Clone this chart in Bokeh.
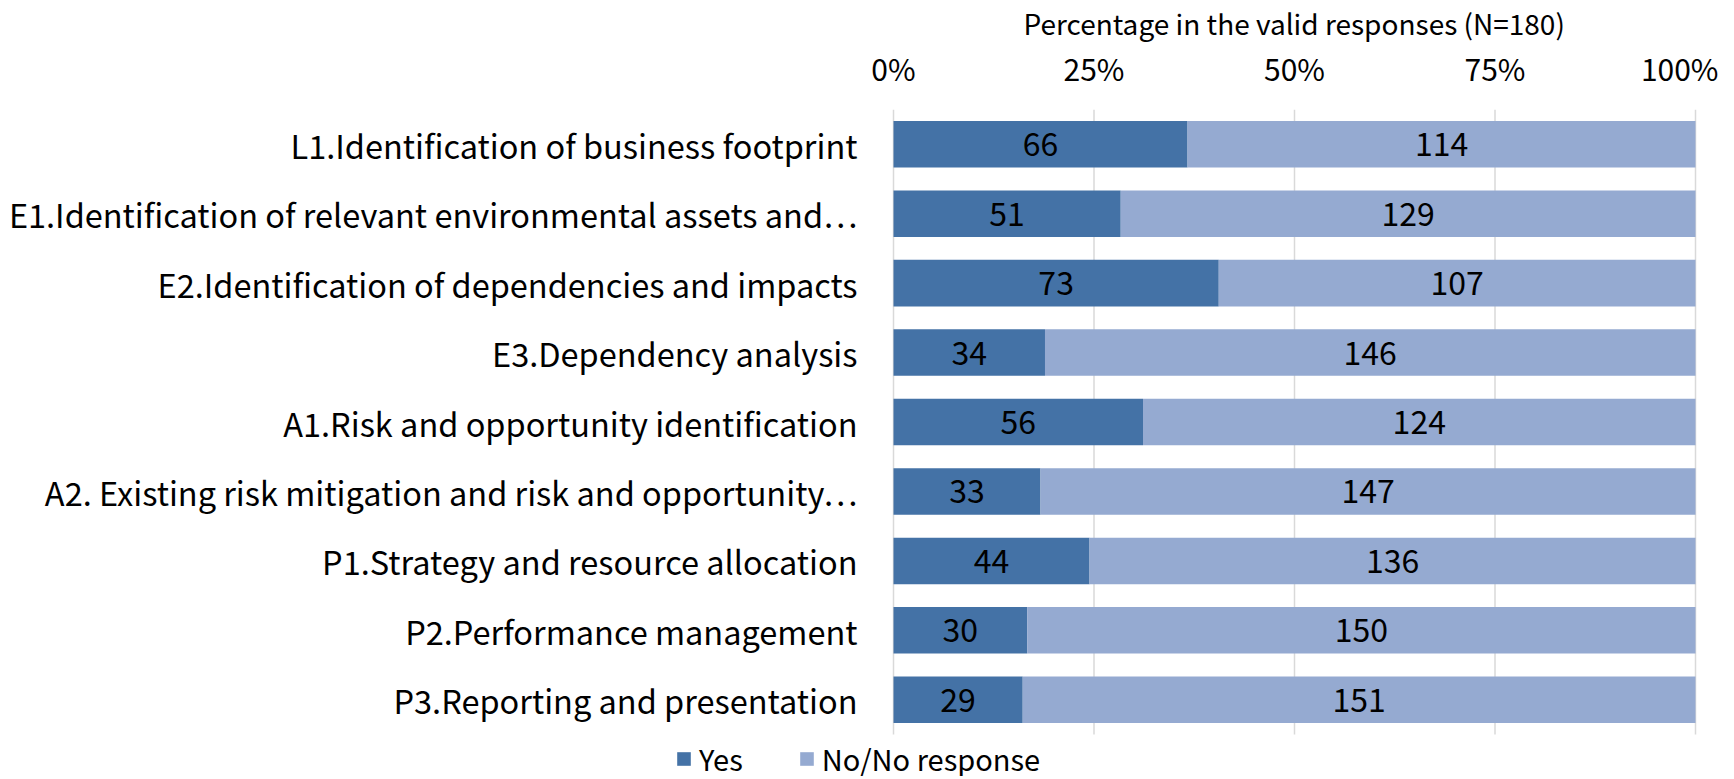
from bokeh.plotting import figure
from bokeh.models import (ColumnDataSource, Legend, LegendItem, Title,
                          NumeralTickFormatter, FixedTicker, Range1d)
from bokeh.embed import file_html
from bokeh.resources import INLINE
from bokeh.core.properties import value

categories = [
    "L1.Identification of business footprint",
    "E1.Identification of relevant environmental assets and\u22ef",
    "E2.Identification of dependencies and impacts",
    "E3.Dependency analysis",
    "A1.Risk and opportunity identification",
    "A2. Existing risk mitigation and risk and opportunity\u22ef",
    "P1.Strategy and resource allocation",
    "P2.Performance management",
    "P3.Reporting and presentation",
]
yes_counts = [66, 51, 73, 34, 56, 33, 44, 30, 29]
no_counts = [114, 129, 107, 146, 124, 147, 136, 150, 151]
total_n = 180
x_ticks = [0, 0.25, 0.5, 0.75, 1.0]
axis_title = "Percentage in the valid responses (N=180)"
series_names = ["Yes", "No/No response"]
series_colors = ["#4472A6", "#95AAD1"]

FONT = "Noto Sans CJK JP"

# ---- layout constants (pixels) ----
W = 1718
FRAME_H = 667             # frame height (frame starts below the top axis)
PLOT_L, PLOT_R = 893, 1695  # pixel span of 0%..100%
ROWS_PX = 625             # pixel height of the category rows
n = len(categories)
unit = (PLOT_R - PLOT_L)
row_px = ROWS_PX / n
x_start = -PLOT_L / unit
x_end = 1 + (W - PLOT_R) / unit
y_top = -0.5
y_bottom = y_top + FRAME_H / row_px

idx = list(range(n))
yes_frac = [v / total_n for v in yes_counts]
no_frac = [v / total_n for v in no_counts]
no_end = [a + b for a, b in zip(yes_frac, no_frac)]

src = ColumnDataSource(dict(
    y=idx,
    cat=categories,
    zero=[0] * n,
    yes_right=yes_frac,
    no_left=yes_frac,
    no_right=no_end,
    yes_mid=[r / 2 for r in yes_frac],
    no_mid=[(a + b) / 2 for a, b in zip(yes_frac, no_end)],
    yes_txt=[str(v) for v in yes_counts],
    no_txt=[str(v) for v in no_counts],
))

p = figure(frame_width=W, frame_height=FRAME_H, output_backend="svg",
           toolbar_location=None,
           x_range=Range1d(x_start, x_end), y_range=Range1d(y_bottom, y_top),
           x_axis_location="above", y_axis_location=None,
           min_border_left=0, min_border_right=0, min_border_top=0,
           min_border_bottom=0)
p.outline_line_color = None
p.background_fill_color = "white"
p.xgrid.visible = False
p.ygrid.visible = False

# vertical gridlines at the tick positions, limited to the category rows
p.segment(x0=x_ticks, x1=x_ticks, y0=[y_top] * len(x_ticks),
          y1=[n - 0.5] * len(x_ticks), line_color="#D9D9D9", line_width=1.5)

r_yes = p.hbar(y="y", left="zero", right="yes_right", height=0.67,
               fill_color=series_colors[0], line_color=None, source=src)
r_no = p.hbar(y="y", left="no_left", right="no_right", height=0.67,
              fill_color=series_colors[1], line_color=None, source=src)

p.text(x="yes_mid", y="y", text="yes_txt", source=src, text_align="center",
       text_baseline="middle", text_font=value(FONT), text_font_size="32px",
       text_color="#000000")
p.text(x="no_mid", y="y", text="no_txt", source=src, text_align="center",
       text_baseline="middle", text_font=value(FONT), text_font_size="32px",
       text_color="#000000")

# category labels
p.text(x="zero", y="y", text="cat", source=src, text_align="right",
       text_baseline="middle", x_offset=-36, text_font=value(FONT),
       text_font_size="32.5px", text_color="#000000")

xa = p.xaxis[0]
xa.ticker = FixedTicker(ticks=x_ticks)
xa.formatter = NumeralTickFormatter(format="0%")
xa.axis_line_color = None
xa.major_tick_line_color = None
xa.minor_tick_line_color = None
xa.major_label_text_font = FONT
xa.major_label_text_font_size = "30px"
xa.major_label_text_color = "#000000"
xa.major_label_standoff = 14

p.add_layout(Title(text=axis_title, align="left", offset=1023, standoff=0,
                   text_font=FONT, text_font_size="28px",
                   text_font_style="normal", text_color="#000000"), "above")

legend = Legend(items=[LegendItem(label=series_names[0], renderers=[r_yes]),
                       LegendItem(label=series_names[1], renderers=[r_no])],
                orientation="horizontal", location=(675, -3),
                glyph_width=17, glyph_height=17, label_standoff=7, spacing=55,
                label_text_font=FONT, label_text_font_size="29px",
                label_text_color="#000000", border_line_color=None,
                background_fill_alpha=0, padding=0, margin=0)
p.add_layout(legend, "center")

open("out.html", "w").write(file_html(p, INLINE))
